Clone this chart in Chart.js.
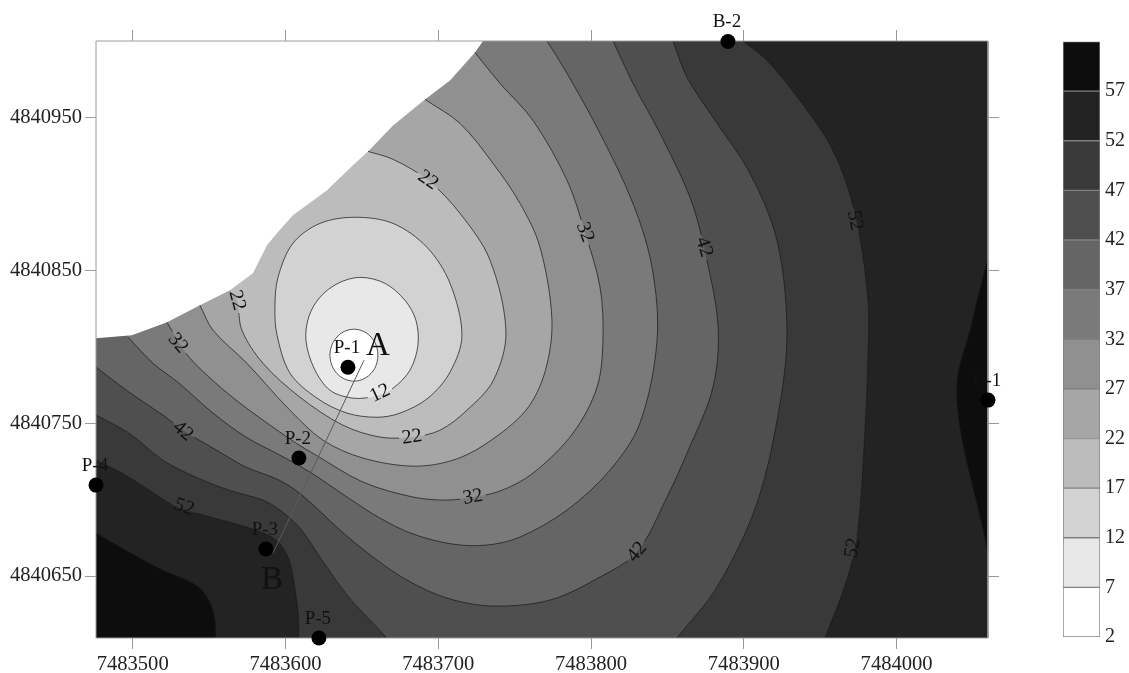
<!DOCTYPE html>
<html>
<head>
<meta charset="utf-8">
<title>Contour map</title>
<script src="https://cdn.jsdelivr.net/npm/chart.js@4"></script>
<style>
  html, body { margin: 0; padding: 0; background: #fff; }
  #wrap { position: relative; width: 1129px; height: 673px; overflow: hidden; }
  canvas { position: absolute; top: 0; }
  #map { left: 0; }
  #scale { left: 1050px; }
</style>
</head>
<body>
<div id="wrap">
  <canvas id="map" width="1129" height="673"></canvas>
  <canvas id="scale" width="79" height="673"></canvas>
</div>
<script>
// all map values are [east, north], offset from these two
const east0 = 7483000;
const north0 = 4840000;

const xMin = 7483476, xMax = 7484059.8;
const yMin = 4840609.5, yMax = 4841000;
const xTicks = [7483500, 7483600, 7483700, 7483800, 7483900, 7484000];
const yTicks = [4840650, 4840750, 4840850, 4840950];
const scaleTicks = [2, 7, 12, 17, 22, 27, 32, 37, 42, 47, 52, 57];
const scaleMax = 62;

// closed contours around P-1
const contour7 = [[644.8,811.5],[652.7,809.2],[658.5,802.9],[660.5,794.5],[658.5,786],[652.7,779.8],[644.8,777.5],[637,779.8],[631.2,786],[629.1,794.5],[631.2,802.9],[637,809.2]];
const contour12 = [[648.8,845.4],[665.1,841.5],[678.2,830.4],[685.4,817.3],[686.7,801],[681.5,784.7],[670.4,772.9],[658.6,767.7],[644.2,766.4],[629.1,771.6],[618.7,786],[613.4,804.3],[615.4,820],[622.6,832.4],[634.4,841.5]];
const contour17 = [[645.5,884.7],[670.4,880.7],[692.6,865.1],[707.7,841.5],[715.5,807.5],[707.7,783.4],[693.3,766.4],[675,756.6],[659.9,753.9],[640.3,756.6],[620.6,766.4],[603,782.7],[594.5,807.5],[593.1,825.8],[595.1,845.4],[604.9,867.7],[622.6,880.7]];

// open contours, running from the top edge round to the left side
const contour22 = [[654,927.8],[670.4,922.6],[693.3,908.9],[714.2,887.3],[733.9,856.6],[744.3,809.5],[736.1,778.1],[718.8,758.5],[701.1,745.4],[682.8,740.9],[661.9,740.9],[637.6,748.7],[609.5,767],[585.3,789.2],[571.5,810.8],[568.3,830.4],[563.7,837]];
const contour27 = [[691.3,961.8],[714.2,946.1],[735.8,920],[753.5,893.8],[766.6,865.1],[774.4,817.3],[769.8,783.4],[757.4,758.5],[731.9,737],[709.6,725.8],[683.5,721.9],[650.7,727.2],[624.6,738.9],[601,760.5],[574.8,789.2],[552.6,810.8],[544,827.2]];
const contour32 = [[724,992.5],[740.4,972.3],[762,948],[784.3,908.9],[796,874.9],[805.9,838.9],[807.8,804.3],[803.9,773.5],[788.2,743.5],[762,717.3],[740.4,705.6],[722.7,701.7],[705.7,699.7],[683.5,701.7],[650.7,711.5],[620,729.1],[606.9,737],[585.3,752],[567.6,765.1],[550,780.1],[536.9,793.2],[530.3,803],[522.5,816]];
const contour37 = [[771.2,1000],[784.3,978.8],[805.9,939.6],[827.4,893.8],[839.9,852],[843.2,804.3],[832,750],[812.4,719.3],[784.3,693.2],[753.5,675.5],[731.9,670.3],[709.6,670.9],[683.5,677.5],[661.9,687.9],[640.3,701.7],[616.1,718],[596.4,729.1],[574.2,740.9],[552.6,756.6],[530.3,776.2],[513.3,789.2],[497,806.2]];
const contour42 = [[814.4,1000],[827.4,972.3],[845.1,939.6],[864.8,897.7],[873.9,865.1],[883.1,814],[879.8,773.5],[862.8,730.4],[849.7,701.7],[830.1,665.7],[805.9,649.4],[773.1,634.3],[735.8,630.4],[705.7,635.6],[679.5,647.4],[657.3,662.4],[635.7,680.1],[610.8,703],[595.8,712.8],[574.2,721.3],[552.6,733.7],[532.9,745.4],[519.8,755.3],[497.6,770.3],[476,786.6]];

// these two meet the bottom edge, so each has an east and a west branch
const contour47East = [[853.6,1000],[862.8,976.2],[879.8,950],[904,913.4],[921.7,869.6],[928.2,812],[923.7,763.1],[908.6,697.7],[882.4,642.8],[856.2,609.5]];
const contour47West = [[666.4,609.5],[653.4,623.2],[640.3,637.6],[622.6,662.4],[609.5,681.4],[596.4,693.2],[585.3,699.7],[563,706.2],[541.4,714.7],[519.8,725.8],[497.6,743.5],[476,755.3]];
const contour52East = [[899.4,1000],[915.2,987.3],[936.7,961.1],[958.3,928.5],[972.7,887.3],[981.3,830],[981,785],[979.3,745.4],[974.7,680.1],[967.5,647.4],[953.1,609.5]];
const contour52West = [[608.8,609.5],[608.2,625.8],[605.6,645.5],[601.6,662.4],[593.8,673.6],[580,680.1],[563,685.3],[541.4,691.2],[526.4,696.4],[508.7,707.5],[491.7,718],[476,725.8]];
const contour57West = [[476,678.1],[497.6,665.7],[519.8,653.9],[541.4,644.1],[549.9,634.3],[553.9,621.3],[554.5,609.5]];
const contour57East = [[1059.8,858.5],[1052.6,830.4],[1048,810.8],[1040.2,782.7],[1039.5,763.1],[1043.4,736],[1054.6,688.6],[1059.1,667],[1059.8,649.4]];

// edge of the blanked area, top left
const blankEdge = [[476,805.6],[499.5,807.5],[522.5,816],[544,827.2],[563.7,837],[578.7,848.1],[587.9,866.4],[594.4,874.2],[604.9,886],[627.2,902.3],[644.2,918.7],[654,927.8],[670.4,944.8],[691.3,961.8],[707.7,974.2],[724,992.5],[729.3,1000]];

// boreholes
const wellNames = ['P-1', 'P-2', 'P-3', 'P-4', 'P-5', 'B-1', 'B-2'];
const wellEast = [640.9, 608.8, 587.2, 476, 621.9, 1059.8, 889.6];
const wellNorth = [786.6, 727.2, 667.7, 709.5, 609.5, 765.1, 999.7];

// section line A-B
const sectionLine = [[651.4,791.2],[591.8,665]];
const sectionNames = ['A', 'B'];
const sectionNameEast = [660.5, 591.2];
const sectionNameNorth = [800.4, 647.4];

// contour labels: level, east, north, rotation in degrees
const contourLabels = [
  [22, 693.3, 908.9, 35], [22, 568.3, 830.4, 75], [32, 529.6, 802.3, 50],
  [42, 532.9, 744.8, 40], [52, 533.6, 695.1, 20], [12, 661.9, 769.6, -25],
  [22, 682.8, 740.9, -8], [32, 722.7, 701.7, -10], [42, 830.1, 665.7, -50],
  [52, 971.4, 668.3, -80], [32, 796, 874.9, 70], [42, 873.9, 865.1, 72],
  [52, 972.7, 882.7, 78]
];

// grey per band, lowest first
const bandColors = ['#ffffff', '#e8e8e8', '#d2d2d2', '#bcbcbc', '#a6a6a6', '#909090', '#7a7a7a', '#656565', '#4f4f4f', '#393939', '#232323', '#0d0d0d'];

const FONT = '"Liberation Serif", "Times New Roman", serif';
const LINE = 'rgba(25,25,25,0.72)';
const FRAME = '#9a9a9a';
const TENSION = 0.33;

const toXY = ([e, n]) => ({ x: east0 + e, y: north0 + n });
const corner = (x, y) => { const p = { x, y }; return [p, p]; };
// doubled points keep the spline sharp where a contour meets a plot edge
const open = pts => { const p = pts.map(toXY); return [p[0], ...p, p[p.length - 1]]; };
// closed contour: walk one step past both ends so every visible piece has a proper tangent
const loop = pts => [pts[pts.length - 1], ...pts, pts[0], pts[1]].map(toXY);

const fillSet = (points, color, tension = TENSION) => ({
  data: points, showLine: true, pointRadius: 0, borderWidth: 0,
  backgroundColor: color, fill: 'shape', tension, clip: 0
});
const strokeSet = (pts, level, closed) => {
  const data = closed ? loop(pts) : pts.map(toXY);
  const set = {
    data, showLine: true, pointRadius: 0,
    borderColor: LINE, borderWidth: 1, fill: false, tension: TENSION, level
  };
  if (closed) {
    set.segment = {
      borderColor: c => (c.p0DataIndex === 0 || c.p1DataIndex === data.length - 1) ? 'transparent' : undefined
    };
  }
  return set;
};

const topLeft = corner(xMin, yMax);

const painted = [
  fillSet([...corner(xMin, yMin), ...corner(xMin, yMax), ...corner(xMax, yMax), ...corner(xMax, yMin)], bandColors[10], 0),
  fillSet([...open(contour57West), ...corner(xMin, yMin)], bandColors[11]),
  fillSet([...open(contour57East), ...corner(xMax, yMax - 1)], bandColors[11]),
  fillSet([...open(contour52East), ...open(contour52West), ...topLeft], bandColors[9]),
  fillSet([...open(contour47East), ...open(contour47West), ...topLeft], bandColors[8]),
  fillSet([...open(contour42), ...topLeft], bandColors[7]),
  fillSet([...open(contour37), ...topLeft], bandColors[6]),
  fillSet([...open(contour32), ...topLeft], bandColors[5]),
  fillSet([...open(contour27), ...topLeft], bandColors[4]),
  fillSet([...open(contour22), ...topLeft], bandColors[3]),
  fillSet([...blankEdge.map(toXY), ...topLeft], '#ffffff', 0),
  fillSet(loop(contour17), bandColors[2]),
  fillSet(loop(contour12), bandColors[1]),
  fillSet(loop(contour7), bandColors[0]),
  strokeSet(contour57West, 57), strokeSet(contour57East, 57),
  strokeSet(contour52East, 52), strokeSet(contour52West, 52),
  strokeSet(contour47East, 47), strokeSet(contour47West, 47),
  strokeSet(contour42, 42), strokeSet(contour37, 37), strokeSet(contour32, 32),
  strokeSet(contour27, 27), strokeSet(contour22, 22),
  strokeSet(contour17, 17, true), strokeSet(contour12, 12, true), strokeSet(contour7, 7, true),
  { data: sectionLine.map(toXY), showLine: true, pointRadius: 0, borderColor: '#5a5a5a', borderWidth: 1, fill: false },
  // plot frame, above the fills but under the boreholes
  {
    data: [{ x: xMin, y: yMin }, { x: xMin, y: yMax }, { x: xMax, y: yMax }, { x: xMax, y: yMin }, { x: xMin, y: yMin }],
    showLine: true, pointRadius: 0, borderColor: FRAME, borderWidth: 1, fill: false, clip: false
  },
  {
    data: wellEast.map((e, i) => toXY([e, wellNorth[i]])), showLine: false,
    pointRadius: 7.5, pointBackgroundColor: '#000', pointBorderWidth: 0, clip: false
  }
];

// Chart.js paints the first dataset last
const datasets = painted.slice().reverse();

const gapRadius = 13;
const contourText = {
  id: 'contourText',
  beforeDatasetDraw(chart, args) {
    const level = chart.data.datasets[args.index].level;
    if (!level) return;
    const { ctx, chartArea: a, scales } = chart;
    ctx.save();
    // leave a gap in the line under each of its labels
    ctx.beginPath();
    ctx.rect(a.left, a.top, a.width, a.height);
    contourLabels.filter(l => l[0] === level).forEach(l => {
      const x = scales.x.getPixelForValue(east0 + l[1]);
      const y = scales.y.getPixelForValue(north0 + l[2]);
      ctx.moveTo(x + gapRadius, y);
      ctx.arc(x, y, gapRadius, 0, Math.PI * 2);
    });
    ctx.clip('evenodd');
  },
  afterDatasetDraw(chart, args) {
    if (chart.data.datasets[args.index].level) chart.ctx.restore();
  },
  afterDatasetsDraw(chart) {
    const { ctx, scales } = chart;
    const px = e => scales.x.getPixelForValue(east0 + e);
    const py = n => scales.y.getPixelForValue(north0 + n);
    ctx.save();
    ctx.textAlign = 'center';
    ctx.textBaseline = 'middle';
    ctx.fillStyle = '#111';
    ctx.font = '20px ' + FONT;
    contourLabels.forEach(([level, e, n, angle]) => {
      ctx.save();
      ctx.translate(px(e), py(n));
      ctx.rotate(angle * Math.PI / 180);
      ctx.fillText(String(level), 0, 0);
      ctx.restore();
    });
    ctx.font = '19px ' + FONT;
    wellNames.forEach((name, i) => ctx.fillText(name, px(wellEast[i]) - 1, py(wellNorth[i]) - 19));
    ctx.font = '33px ' + FONT;
    sectionNames.forEach((name, i) => ctx.fillText(name, px(sectionNameEast[i]), py(sectionNameNorth[i])));
    ctx.restore();
  }
};

const frameAxis = (extra) => Object.assign({
  type: 'linear',
  border: { display: false },
  grid: { drawOnChartArea: false, drawTicks: true, tickLength: 11, tickColor: FRAME, tickWidth: 1 }
}, extra);

const tickFont = { family: FONT, size: 20.6 };
const setTicks = vals => scale => { scale.ticks = vals.map(value => ({ value })); };
const labelTicks = { color: '#222', font: tickFont, padding: 3, autoSkip: false, maxRotation: 0, callback: v => String(v) };

new Chart(document.getElementById('map'), {
  type: 'scatter',
  data: { datasets },
  plugins: [contourText],
  options: {
    responsive: false,
    animation: false,
    events: [],
    layout: { padding: 0 },
    plugins: { legend: { display: false }, tooltip: { enabled: false }, title: { display: false } },
    scales: {
      x: frameAxis({ position: 'bottom', min: xMin, max: xMax, ticks: labelTicks,
        afterBuildTicks: setTicks(xTicks), afterFit: s => { s.height = 35; } }),
      x2: frameAxis({ position: 'top', min: xMin, max: xMax, ticks: { display: false },
        afterBuildTicks: setTicks(xTicks), afterFit: s => { s.height = 41; } }),
      y: frameAxis({ position: 'left', min: yMin, max: yMax, ticks: labelTicks,
        afterBuildTicks: setTicks(yTicks), afterFit: s => { s.width = 96; } }),
      y2: frameAxis({ position: 'right', min: yMin, max: yMax, ticks: { display: false },
        afterBuildTicks: setTicks(yTicks), afterFit: s => { s.width = 141; } })
    }
  }
});

// grey scale bar on the right
new Chart(document.getElementById('scale'), {
  type: 'bar',
  data: {
    labels: [''],
    datasets: bandColors.map((color, i) => ({
      data: [[scaleTicks[i], i + 1 < scaleTicks.length ? scaleTicks[i + 1] : scaleMax]],
      backgroundColor: color, borderColor: '#808080', borderWidth: 1, borderSkipped: false,
      barPercentage: 1, categoryPercentage: 1, grouped: false
    }))
  },
  options: {
    responsive: false,
    animation: false,
    events: [],
    layout: { padding: { left: 13, top: 41.5, bottom: 36 } },
    plugins: { legend: { display: false }, tooltip: { enabled: false } },
    scales: {
      x: { display: false },
      y: {
        position: 'right', min: 2, max: scaleMax,
        border: { display: false },
        grid: { display: false, drawTicks: false },
        ticks: { color: '#222', font: { family: FONT, size: 20 }, padding: 5, autoSkip: false, callback: v => String(v) },
        afterBuildTicks: setTicks(scaleTicks),
        afterFit: s => { s.width = 29; }
      }
    }
  }
});
</script>
</body>
</html>
